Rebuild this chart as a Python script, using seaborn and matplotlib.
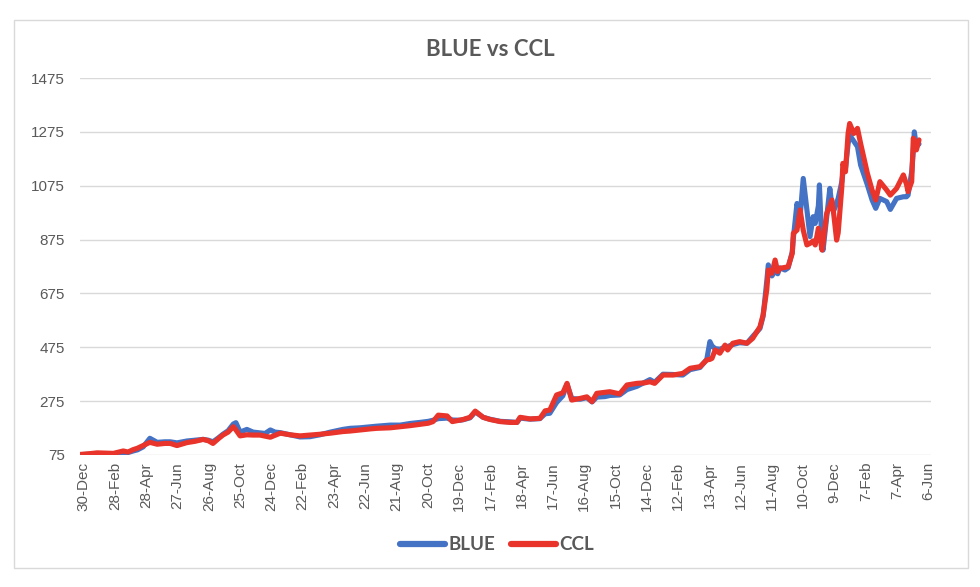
import matplotlib
matplotlib.use("Agg")
import numpy as np
import pandas as pd
import matplotlib.pyplot as plt
import seaborn as sns
from matplotlib.lines import Line2D
from matplotlib.patches import Rectangle

# ---------------- data ----------------
start_date = "2019-12-30"
# days since start_date
days = [-7, 12, 26, 41, 57, 76, 85, 95, 103, 114,
        127, 141, 156, 166, 179, 198, 214, 229, 239, 248,
        258, 267, 277, 287, 292, 300, 313, 325, 338, 348,
        358, 367, 377, 396, 415, 434, 453, 473, 497, 511,
        530, 550, 562, 588, 607, 626, 645, 661, 670, 680,
        697, 707, 722, 728, 741, 751, 766, 779, 799, 818,
        831, 837, 856, 875, 885, 894, 907, 919, 927, 936,
        952, 965, 975, 984, 1000, 1009, 1028, 1042, 1061, 1076,
        1086, 1095, 1111, 1130, 1149, 1163, 1182, 1195, 1201, 1205,
        1211, 1220, 1230, 1235, 1245, 1258, 1272, 1283, 1297, 1303,
        1310, 1313, 1320, 1326, 1331, 1335, 1345, 1351, 1359, 1361,
        1368, 1374, 1380, 1387, 1393, 1399, 1403, 1409, 1411, 1416,
        1418, 1425, 1431, 1435, 1439, 1444, 1447, 1454, 1456, 1461,
        1466, 1469, 1477, 1484, 1490, 1503, 1512, 1519, 1527, 1540,
        1547, 1559, 1572, 1578, 1581, 1588, 1591, 1593, 1597, 1602]

ccl = [77, 80, 83, 82, 81, 90, 86, 95, 100, 110,
       122, 115, 118, 118, 110, 121, 126, 133, 128, 118,
       135, 149, 160, 180, 168, 146, 150, 149, 149, 145,
       141, 148, 156, 150, 146, 149, 152, 156, 162, 164,
       168, 172, 174, 176, 180, 184, 189, 193, 199, 223,
       220, 199, 205, 207, 215, 238, 215, 207, 199, 196,
       196, 215, 209, 211, 239, 242, 298, 306, 341, 279,
       285, 291, 273, 304, 308, 310, 302, 335, 341, 343,
       347, 341, 372, 372, 378, 397, 403, 428, 430, 434,
       465, 453, 483, 465, 490, 496, 490, 508, 551, 595,
       688, 762, 750, 799, 756, 768, 772, 774, 824, 898,
       910, 985, 910, 855, 861, 870, 855, 917, 900, 836,
       860, 972, 1000, 1022, 960, 873, 900, 1071, 1158, 1127,
       1269, 1306, 1269, 1288, 1232, 1121, 1059, 1022, 1090, 1059,
       1040, 1065, 1115, 1080, 1053, 1090, 1251, 1240, 1208, 1245]

blue = [76, 78, 80, 79, 78, 84, 84, 90, 94, 105,
        137, 122, 124, 124, 120, 127, 130, 133, 130, 124,
        138, 152, 165, 190, 195, 160, 170, 160, 157, 155,
        168, 160, 158, 150, 142, 143, 150, 160, 170, 174,
        176, 180, 182, 186, 186, 192, 196, 200, 204, 210,
        212, 205, 204, 206, 213, 235, 215, 208, 200, 198,
        196, 212, 208, 210, 228, 230, 270, 295, 338, 285,
        282, 288, 272, 290, 292, 296, 298, 318, 330, 345,
        355, 345, 375, 374, 372, 392, 400, 430, 496, 480,
        470, 468, 475, 478, 485, 492, 490, 515, 545, 590,
        720, 781, 740, 760, 748, 770, 762, 770, 830, 880,
        1009, 960, 1102, 985, 886, 960, 935, 1000, 1078, 850,
        836, 960, 1065, 1000, 985, 1010, 1028, 1090, 1121, 1140,
        1230, 1263, 1240, 1220, 1152, 1078, 1022, 991, 1028, 1016,
        987, 1028, 1034, 1034, 1040, 1127, 1200, 1275, 1220, 1230]

series_names = ["BLUE", "CCL"]
series_colors = ["#4472C4", "#E8342A"]
y_ticks = list(range(75, 1476, 200))
tick_every_days = 60
n_ticks = 28

# ---------------- build frame ----------------
t0 = pd.Timestamp(start_date)
dates = t0 + pd.to_timedelta(days, unit="D")
wide = pd.DataFrame({"date": dates, "BLUE": blue, "CCL": ccl})
long = wide.melt(id_vars="date", var_name="series", value_name="value")

sns.set_style("white")
plt.rcParams["font.family"] = ["Liberation Sans", "DejaVu Sans"]

fig = plt.figure(figsize=(9.8, 5.87), dpi=100)
ax = fig.add_axes([80 / 980, 1 - 455 / 587, (931 - 80) / 980, (455 - 78) / 587])

sns.lineplot(data=long, x="date", y="value", hue="series",
             hue_order=series_names,
             palette=dict(zip(series_names, series_colors)),
             estimator=None, linewidth=3.7, legend=False, ax=ax,
             solid_joinstyle="round", solid_capstyle="round")

ax.set_ylim(75, 1475)
ax.set_yticks(y_ticks)
xt = pd.date_range(start_date, periods=n_ticks, freq=f"{tick_every_days}D")
ax.set_xticks(xt)
ax.set_xticklabels([f"{d.day}-{d.strftime('%b')}" for d in xt], rotation=90)
ax.set_xlim(t0 - pd.Timedelta(days=7), t0 + pd.Timedelta(days=1625))

ax.grid(axis="y", color="#d9d9d9", linewidth=1)
ax.grid(axis="x", visible=False)
ax.set_axisbelow(True)
for s in ax.spines.values():
    s.set_visible(False)
ax.tick_params(axis="both", length=0, labelsize=11, labelcolor="#595959")
ax.tick_params(axis="y", pad=11)
ax.tick_params(axis="x", pad=5)
ax.set_xlabel("")
ax.set_ylabel("")

fig.text(0.5, 1 - 50 / 587, "BLUE vs CCL", ha="center", va="center",
         fontsize=16, fontweight="bold", color="#595959",
         family=["Lato", "DejaVu Sans"])

handles = [Line2D([0], [0], color=c, lw=4.5) for c in series_colors]
fig.legend(handles, series_names, loc="center",
           bbox_to_anchor=(497 / 980, 1 - 545 / 587), ncol=2, frameon=False,
           prop=dict(family=["Lato", "DejaVu Sans"], weight="bold", size=13.5),
           labelcolor="#595959", handlelength=2.4, columnspacing=0.8,
           handletextpad=0.2)

fig.patches.append(Rectangle((14 / 980, 1 - 568 / 587), 954 / 980, 548 / 587,
                             transform=fig.transFigure, fill=False,
                             edgecolor="#d9d9d9", linewidth=1))

fig.savefig("out.png", dpi=100)
